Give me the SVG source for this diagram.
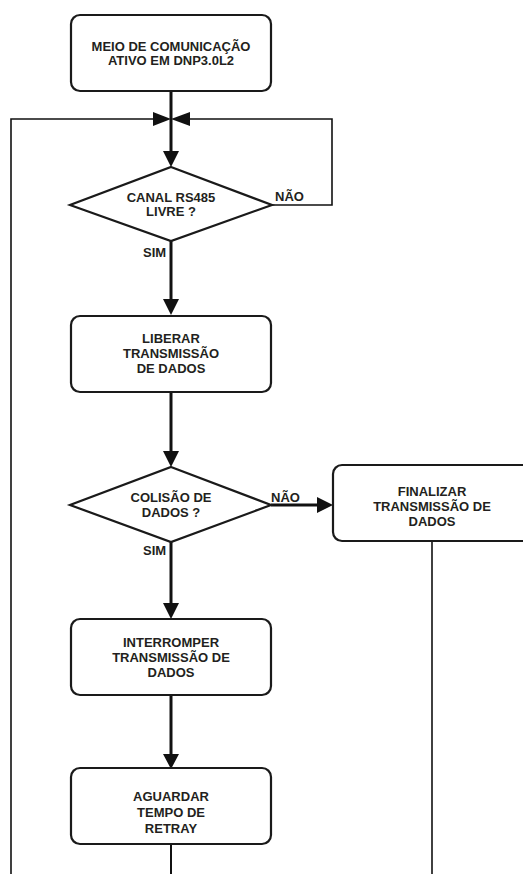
<svg xmlns="http://www.w3.org/2000/svg" width="523" height="874" viewBox="0 0 523 874">
<style>
.box{fill:#fff;stroke:#1a1a1a;stroke-width:2.2}
.t{font-family:"Liberation Sans",Arial,sans-serif;font-weight:bold;font-size:13px;fill:#231f20;text-anchor:middle}
.lbl{font-family:"Liberation Sans",Arial,sans-serif;font-weight:bold;font-size:13px;fill:#231f20}
.thick{fill:none;stroke:#111;stroke-width:3}
.thin{fill:none;stroke:#111;stroke-width:1.6}
.ah{fill:#111}
</style>
<rect width="523" height="874" fill="#fff"/>
<g id="connectors">
  <path class="thick" d="M171,92 V153"/>
  <path class="thin" d="M11,874 V119 H155"/>
  <path class="thin" d="M272,205 H332 V119 H188"/>
  <polygon class="ah" points="153,112 171,119 153,126"/>
  <polygon class="ah" points="190,112 171,119 190,126"/>
  <polygon class="ah" points="163,151 179,151 171,167"/>
  <path class="thick" d="M171,241 V300"/>
  <polygon class="ah" points="163,299 179,299 171,315"/>
  <path class="thick" d="M171,392 V452"/>
  <polygon class="ah" points="163,451 179,451 171,467"/>
  <path class="thick" d="M271,505 H318"/>
  <polygon class="ah" points="317,497 333,505 317,513"/>
  <path class="thick" d="M171,542 V604"/>
  <polygon class="ah" points="163,603 179,603 171,619"/>
  <path class="thick" d="M171,695 V755"/>
  <polygon class="ah" points="163,754 179,754 171,769"/>
  <path class="thin" d="M171,844 V874" style="stroke-width:2"/>
  <path class="thin" d="M432,541 V874"/>
  <text class="lbl" x="275" y="201">NÃO</text>
  <text class="lbl" x="143" y="257">SIM</text>
  <text class="lbl" x="271" y="502">NÃO</text>
  <text class="lbl" x="143" y="555">SIM</text>
</g>
<g id="n1">
  <rect class="box" x="71" y="15" width="200" height="76" rx="9"/>
  <text class="t" x="171" y="51">MEIO DE COMUNICAÇÃO</text>
  <text class="t" x="171" y="65">ATIVO EM DNP3.0L2</text>
</g>
<g id="d1">
  <polygon class="box" points="171,167 272,205 171,241 70,205"/>
  <text class="t" x="171" y="202">CANAL RS485</text>
  <text class="t" x="171" y="216">LIVRE ?</text>
</g>
<g id="n2">
  <rect class="box" x="71" y="316" width="200" height="76" rx="9"/>
  <text class="t" x="171" y="343">LIBERAR</text>
  <text class="t" x="171" y="358">TRANSMISSÃO</text>
  <text class="t" x="171" y="373">DE DADOS</text>
</g>
<g id="d2">
  <polygon class="box" points="171,467 271,505 171,542 70,505"/>
  <text class="t" x="171" y="502">COLISÃO DE</text>
  <text class="t" x="171" y="517">DADOS ?</text>
</g>
<g id="n3">
  <rect class="box" x="333" y="465" width="200" height="76" rx="9"/>
  <text class="t" x="432" y="496">FINALIZAR</text>
  <text class="t" x="432" y="511">TRANSMISSÃO DE</text>
  <text class="t" x="432" y="526">DADOS</text>
</g>
<g id="n4">
  <rect class="box" x="71" y="619" width="200" height="76" rx="9"/>
  <text class="t" x="171" y="647">INTERROMPER</text>
  <text class="t" x="171" y="662">TRANSMISSÃO DE</text>
  <text class="t" x="171" y="677">DADOS</text>
</g>
<g id="n5">
  <rect class="box" x="71" y="768" width="200" height="76" rx="9"/>
  <text class="t" x="171" y="801">AGUARDAR</text>
  <text class="t" x="171" y="817">TEMPO DE</text>
  <text class="t" x="171" y="833">RETRAY</text>
</g>
</svg>
